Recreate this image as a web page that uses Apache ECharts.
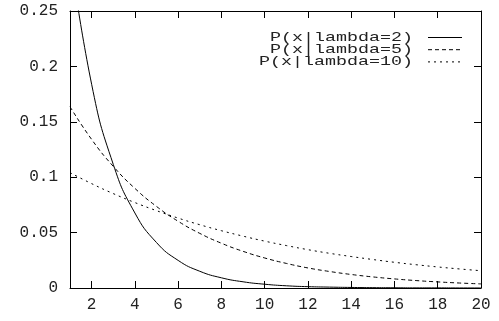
<!DOCTYPE html>
<html>
<head>
<meta charset="utf-8">
<script src="https://cdn.jsdelivr.net/npm/echarts@6/dist/echarts.min.js"></script>
<style>
  html, body { margin: 0; padding: 0; background: #fff; }
  #chart { width: 499px; height: 321px; }
</style>
</head>
<body>
<div id="chart"></div>
<script>
const xs = [1, 2, 3, 4, 5, 6, 7, 8, 9, 10, 11, 12, 13, 14, 15, 16, 17, 18, 19, 20];

const lambda2 = [0.3033, 0.1839, 0.1116, 0.0677, 0.0410, 0.0249, 0.0151, 0.0092, 0.0056, 0.0034, 0.0020, 0.0012, 0.0008, 0.0005, 0.0003, 0.0002, 0.0001, 0.0001, 0.00004, 0.00002];
const lambda5 = [0.1637, 0.1341, 0.1098, 0.0899, 0.0736, 0.0602, 0.0493, 0.0404, 0.0331, 0.0271, 0.0222, 0.0181, 0.0149, 0.0122, 0.0100, 0.0082, 0.0067, 0.0055, 0.0045, 0.0037];
const lambda10 = [0.1041, 0.0942, 0.0852, 0.0771, 0.0698, 0.0631, 0.0571, 0.0517, 0.0468, 0.0423, 0.0383, 0.0346, 0.0313, 0.0284, 0.0257, 0.0232, 0.0210, 0.0190, 0.0172, 0.0156];

const seriesNames = ['P(x|lambda=2)', 'P(x|lambda=5)', 'P(x|lambda=10)'];
const xTicks = [2, 4, 6, 8, 10, 12, 14, 16, 18, 20];

const FONT = 'Liberation Mono, DejaVu Sans Mono, monospace';
const dashes = [null, [4, 3], [2, 4]];

const chart = echarts.init(document.getElementById('chart'));

const toPairs = (ys) => xs.map((x, i) => [x, ys[i]]);

const axisCommon = {
  axisLine: { show: true, onZero: false, lineStyle: { color: '#000', width: 1 } },
  axisTick: { show: true, inside: true, length: 7, lineStyle: { color: '#000', width: 1 } },
  splitLine: { show: false },
};

// legend drawn by hand so the wide gnuplot lettering can be matched
const legendGraphics = [];
seriesNames.forEach((name, i) => {
  const y = 37.5 + i * 12.2;
  legendGraphics.push({
    type: 'text',
    x: 413,
    y: y,
    scaleX: 1.41,
    style: {
      text: name,
      font: '13px ' + FONT,
      fill: '#222',
      textAlign: 'right',
      textVerticalAlign: 'middle',
    },
  });
  legendGraphics.push({
    type: 'line',
    shape: { x1: 428, y1: y, x2: 462, y2: y },
    style: { stroke: '#000', lineWidth: 1, lineDash: dashes[i] || null },
  });
});

const option = {
  animation: false,
  grid: { left: 70, right: 18, top: 11, bottom: 33 },
  xAxis: [
    {
      ...axisCommon,
      type: 'value',
      min: 1,
      max: 20,
      position: 'bottom',
      axisTick: { ...axisCommon.axisTick, customValues: xTicks },
      axisLabel: {
        customValues: xTicks,
        color: '#222',
        fontFamily: FONT,
        fontSize: 16,
        margin: 9,
      },
    },
    {
      ...axisCommon,
      type: 'value',
      min: 1,
      max: 20,
      position: 'top',
      axisTick: { ...axisCommon.axisTick, customValues: xTicks },
      axisLabel: { show: false },
    },
  ],
  yAxis: [
    {
      ...axisCommon,
      type: 'value',
      min: 0,
      max: 0.25,
      interval: 0.05,
      position: 'left',
      axisLabel: {
        color: '#222',
        fontFamily: FONT,
        fontSize: 16,
        margin: 12,
      },
    },
    {
      ...axisCommon,
      type: 'value',
      min: 0,
      max: 0.25,
      interval: 0.05,
      position: 'right',
      axisLabel: { show: false },
    },
  ],
  series: [lambda2, lambda5, lambda10].map((ys, i) => ({
    name: seriesNames[i],
    type: 'line',
    data: toPairs(ys),
    smooth: 0.5,
    symbol: 'none',
    clip: true,
    lineStyle: { color: '#000', width: 1, type: dashes[i] || 'solid' },
  })),
  graphic: legendGraphics,
};

chart.setOption(option);
</script>
</body>
</html>
